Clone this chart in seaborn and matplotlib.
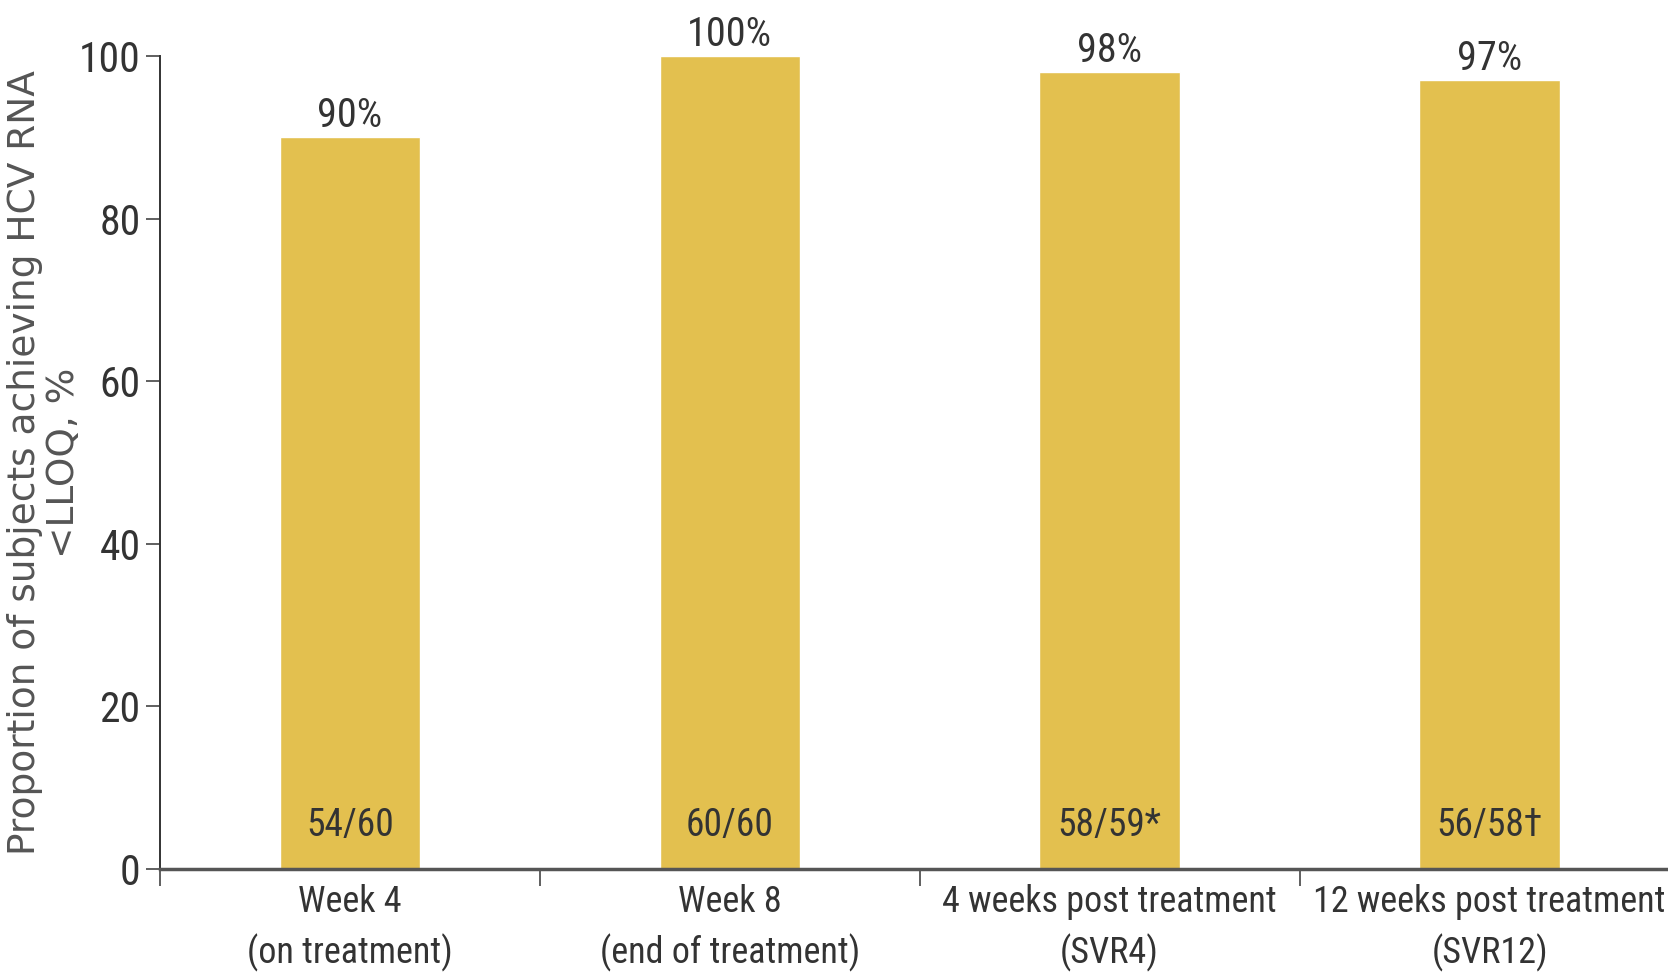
import matplotlib
matplotlib.use("Agg")
import matplotlib.pyplot as plt
import seaborn as sns
import pandas as pd
from matplotlib.ticker import FixedLocator
from matplotlib import font_manager

categories = ["Week 4\n(on treatment)", "Week 8\n(end of treatment)",
              "4 weeks post treatment\n(SVR4)", "12 weeks post treatment\n(SVR12)"]
values = [90, 100, 98, 97]
top_labels = ["90%", "100%", "98%", "97%"]
inner_labels = ["54/60", "60/60", "58/59*", "56/58\u2020"]
y_ticks = [0, 20, 40, 60, 80, 100]

sns.set_theme(style="white")

# pick a condensed sans font if one is installed
names = {f.name for f in font_manager.fontManager.ttflist}
cond_family, cond_stretch, condensed = None, "normal", False
for cand in ["Liberation Sans Narrow", "Roboto Condensed", "Open Sans Condensed",
             "Noto Sans Condensed", "DejaVu Sans Condensed", "Arial Narrow"]:
    if cand in names:
        cond_family, condensed = cand, True
        break
if cond_family is None:
    for f in font_manager.fontManager.ttflist:
        if f.name in ("Roboto", "Noto Sans", "Open Sans", "DejaVu Sans", "Liberation Sans") \
                and str(f.stretch) in ("condensed", "semi-condensed", "extra-condensed", "500", "400", "300") \
                and str(f.stretch) != "normal" and f.style == "normal":
            cond_family, cond_stretch, condensed = f.name, f.stretch, True
            break
if cond_family is None:
    cond_family = "Liberation Sans"

plt.rcParams['font.family'] = [cond_family, 'DejaVu Sans']
plt.rcParams['font.stretch'] = cond_stretch

k = 1.0 if condensed else 0.85
fs_top = 29 * k
fs_in = 27 * k
fs_yt = 30 * k
fs_xt = 26 * k

bar_color = "#E3C04F"
text_color = "#333333"

fig = plt.figure(figsize=(16.68, 9.8), dpi=100)
ax = fig.add_axes([0.0959, 0.1133, 0.911, 0.8296])

df = pd.DataFrame({"cat": categories, "val": values})
sns.barplot(data=df, x="cat", y="val", color=bar_color, width=0.37,
            saturation=1, ax=ax)

ax.set_ylim(0, 100)
ax.set_xlim(-0.5, 3.5)

for i, (v, t, s) in enumerate(zip(values, top_labels, inner_labels)):
    ax.text(i, v + 0.3, t, ha="center", va="bottom", fontsize=fs_top, color=text_color)
    ax.text(i, 5.4, s, ha="center", va="center", fontsize=fs_in, color=text_color)

ax.set_yticks(y_ticks)
ax.set_yticklabels([str(t) for t in y_ticks], fontsize=fs_yt, color=text_color)
ax.xaxis.set_major_locator(FixedLocator([-0.5, 0.5, 1.5, 2.5]))
ax.set_xticklabels([""] * 4)
ax.xaxis.set_minor_locator(FixedLocator([0, 1, 2, 3]))
ax.set_xticklabels(categories, minor=True, fontsize=fs_xt, color=text_color,
                   linespacing=1.45)
ax.tick_params(axis="x", which="major", length=12, width=1.2, color="#444444", direction="out", bottom=True)
ax.tick_params(axis="x", which="minor", length=0, pad=11)
ax.tick_params(axis="y", length=10, width=1.2, color="#444444", direction="out", left=True, pad=4)

ax.set_xlabel("")
ax.set_ylabel("Proportion of subjects achieving HCV RNA\n<LLOQ, %", fontsize=27,
              color="#555555", family=["DejaVu Sans"], fontstretch="normal",
              linespacing=1.12)
ax.yaxis.set_label_coords(-0.051, 0.5)

for side in ["top", "right"]:
    ax.spines[side].set_visible(False)
ax.spines["left"].set_color("#333333")
ax.spines["left"].set_linewidth(1.4)
ax.spines["bottom"].set_color("#555555")
ax.spines["bottom"].set_linewidth(2.5)

fig.savefig("out.png", dpi=100)
